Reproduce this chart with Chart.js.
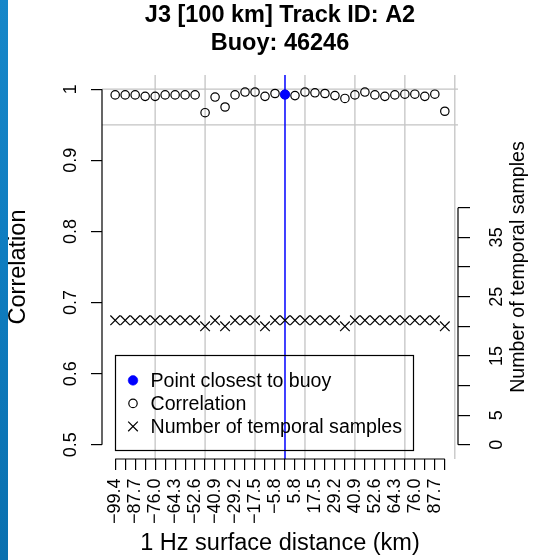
<!DOCTYPE html>
<html><head><meta charset="utf-8">
<script src="https://cdn.jsdelivr.net/npm/chart.js@4.4.1/dist/chart.umd.min.js"></script>
<style>
html,body{margin:0;padding:0;background:#fff;}
#wrap{position:relative;width:541px;height:560px;overflow:hidden;background:#fff;}
#strip{position:absolute;left:0;top:0;width:8px;height:560px;background:linear-gradient(180deg,#1787c9 0%,#0f7dc0 45%,#0a70af 100%);}
canvas{position:absolute;left:0;top:0;}
</style></head><body>
<div id="wrap"><canvas id="c" width="541" height="560"></canvas><div id="strip"></div></div>
<script>
// ---- data ----
const DIST_LABELS = ['\u221299.4','\u221293.6','\u221287.7','\u221281.9','\u221276.0','\u221270.2','\u221264.3','\u221258.5','\u221252.6','\u221246.8','\u221240.9','\u221235.1','\u221229.2','\u221223.4','\u221217.5','\u221211.7','\u22125.8','0.0','5.8','11.7','17.5','23.4','29.2','35.1','40.9','46.8','52.6','58.5','64.3','70.2','76.0','81.9','87.7','93.6'];
const CORRELATION = [0.992,0.992,0.992,0.990,0.990,0.992,0.992,0.992,0.992,0.967,0.989,0.975,0.992,0.996,0.996,0.990,0.994,0.9925,0.991,0.996,0.995,0.994,0.991,0.987,0.992,0.996,0.992,0.990,0.992,0.993,0.993,0.990,0.993,0.969];
const SAMPLES = [21,21,21,21,21,21,21,21,21,20,21,20,21,21,21,20,21,21,21,21,21,21,21,20,21,21,21,21,21,21,21,21,21,20];
const CLOSEST_INDEX = 18;            // 1-based position of the point closest to the buoy
const COR_TICKS = [0.5,0.6,0.7,0.8,0.9,1];
const COR_TICK_LABELS = ['0.5','0.6','0.7','0.8','0.9','1'];
const SAMPLE_TICKS = [0,5,10,15,20,25,30,35,40];
const SAMPLE_TICK_LABELS = [0,5,15,25,35];
const GRID_X = [5,10,15,20,25,30,35];
const GRID_Y = [0.95,1.0];
const LABEL_EVERY = 2;

// ---- chart ----
const FONT = "'Liberation Sans', Arial, sans-serif";
Chart.defaults.font.family = FONT;
Chart.defaults.color = '#000';
const TICK_SIZE = 18;

const idx = CORRELATION.map((_, i) => i + 1);

const refDecor = {
  id: 'refDecor',
  beforeDatasetsDraw(chart) {
    const {ctx, chartArea: ca, scales: {x, y}} = chart;
    ctx.save();
    ctx.strokeStyle = '#c4c4c4';
    ctx.lineWidth = 1.3;
    ctx.beginPath();
    GRID_X.forEach(v => { const px = x.getPixelForValue(v); ctx.moveTo(px, ca.top); ctx.lineTo(px, ca.bottom); });
    GRID_Y.forEach(v => { const py = y.getPixelForValue(v); ctx.moveTo(ca.left, py); ctx.lineTo(ca.right, py); });
    ctx.stroke();
    const bx = x.getPixelForValue(CLOSEST_INDEX);
    ctx.strokeStyle = '#0000ff';
    ctx.lineWidth = 1.5;
    ctx.beginPath(); ctx.moveTo(bx, ca.top); ctx.lineTo(bx, ca.bottom); ctx.stroke();
    ctx.restore();
  },
  afterDatasetsDraw(chart) {
    const {ctx, chartArea: ca, scales: {x, y, y2}} = chart;
    ctx.save();
    ctx.strokeStyle = '#000';
    ctx.lineWidth = 1.2;
    ctx.beginPath();
    ctx.moveTo(ca.left, y.getPixelForValue(COR_TICKS[0]));
    ctx.lineTo(ca.left, y.getPixelForValue(COR_TICKS[COR_TICKS.length - 1]));
    ctx.moveTo(ca.right, y2.getPixelForValue(SAMPLE_TICKS[0]));
    ctx.lineTo(ca.right, y2.getPixelForValue(SAMPLE_TICKS[SAMPLE_TICKS.length - 1]));
    ctx.moveTo(x.getPixelForValue(1), ca.bottom);
    ctx.lineTo(x.getPixelForValue(idx.length), ca.bottom);
    ctx.stroke();

    ctx.save();
    ctx.translate(ca.right + 61, (ca.top + ca.bottom) / 2);
    ctx.rotate(-Math.PI / 2);
    ctx.font = '19.6px ' + FONT;
    ctx.fillStyle = '#000';
    ctx.textAlign = 'center';
    ctx.textBaseline = 'middle';
    ctx.fillText('Number of temporal samples', 0, 0);
    ctx.restore();

    const L = {left: 115, top: 355, width: 298, height: 95, symX: 133, textX: 150.5, base0: 387, step: 23};
    ctx.lineWidth = 1.2;
    ctx.strokeStyle = '#000';
    ctx.strokeRect(L.left + 0.5, L.top + 0.5, L.width, L.height);
    ctx.font = '19.6px ' + FONT;
    ctx.textAlign = 'left';
    ctx.textBaseline = 'alphabetic';
    chart.data.datasets.forEach((ds, i) => {
      const by = L.base0 + i * L.step;
      const cy = by - 6.6;
      ctx.fillStyle = ds.backgroundColor;
      ctx.strokeStyle = ds.borderColor;
      ctx.lineWidth = ds.borderWidth;
      Chart.helpers.drawPoint(ctx, {pointStyle: ds.pointStyle, radius: ds.pointRadius, borderWidth: ds.borderWidth, rotation: 0}, L.symX, cy);
      ctx.fillStyle = '#000';
      ctx.fillText(ds.label, L.textX, by);
    });
    ctx.restore();
  }
};

new Chart(document.getElementById('c'), {
  type: 'scatter',
  data: {
    datasets: [
      {
        label: 'Point closest to buoy',
        data: [{x: CLOSEST_INDEX, y: CORRELATION[CLOSEST_INDEX - 1]}],
        yAxisID: 'y',
        pointStyle: 'circle', pointRadius: 4.8,
        backgroundColor: '#0000ff', borderColor: '#0000ff', borderWidth: 0.6
      },
      {
        label: 'Correlation',
        data: CORRELATION.map((v, i) => ({x: idx[i], y: v})),
        yAxisID: 'y',
        pointStyle: 'circle', pointRadius: 4.2,
        backgroundColor: 'rgba(0,0,0,0)', borderColor: '#000', borderWidth: 1.2
      },
      {
        label: 'Number of temporal samples',
        data: SAMPLES.map((v, i) => ({x: idx[i], y: v})),
        yAxisID: 'y2',
        pointStyle: 'crossRot', pointRadius: 6.8,
        backgroundColor: 'rgba(0,0,0,0)', borderColor: '#000', borderWidth: 1.2
      }
    ]
  },
  options: {
    responsive: false,
    animation: false,
    devicePixelRatio: 1,
    events: [],
    layout: {padding: 0},
    elements: {point: {hoverRadius: 0}},
    plugins: {
      legend: {display: false},
      tooltip: {enabled: false},
      title: {
        display: true,
        fullSize: false,
        text: ['J3 [100 km] Track ID: A2', 'Buoy: 46246'],
        font: {size: 23.5, weight: 'bold', lineHeight: 1.2},
        color: '#000',
        padding: {top: 1.5, bottom: 17.1}
      }
    },
    scales: {
      x: {
        type: 'linear', position: 'bottom',
        min: -0.32, max: idx.length + 1.32,
        afterBuildTicks: s => { s.ticks = idx.map(v => ({value: v})); },
        afterFit: s => { s.height = 101; },
        grid: {display: true, drawOnChartArea: false, drawTicks: true, tickLength: 11, color: '#000', lineWidth: 1.2},
        border: {display: false},
        ticks: {
          autoSkip: false, minRotation: 90, maxRotation: 90, padding: 8.5,
          font: {size: TICK_SIZE}, color: '#000',
          callback: v => ((v - 1) % LABEL_EVERY === 0 ? DIST_LABELS[v - 1] : '')
        },
        title: {display: true, text: '1 Hz surface distance (km)', font: {size: 23.5}, color: '#000', padding: {top: 0, bottom: 2.4}}
      },
      y: {
        type: 'linear', position: 'left',
        min: 0.48, max: 1.02,
        afterBuildTicks: s => { s.ticks = COR_TICKS.map(v => ({value: v})); },
        afterFit: s => { s.width = 102; },
        grid: {display: true, drawOnChartArea: false, drawTicks: true, tickLength: 11, color: '#000', lineWidth: 1.2},
        border: {display: false},
        ticks: {
          minRotation: 90, maxRotation: 90, crossAlign: 'center', padding: 7,
          font: {size: TICK_SIZE}, color: '#000',
          callback: v => COR_TICK_LABELS[COR_TICKS.indexOf(v)]
        },
        title: {display: true, text: 'Correlation', font: {size: 23.5}, color: '#000', padding: {top: 4.4, bottom: 0}}
      },
      y2: {
        type: 'linear', position: 'right',
        min: -2.4, max: 62.4,
        afterBuildTicks: s => { s.ticks = SAMPLE_TICKS.map(v => ({value: v})); },
        afterFit: s => { s.width = 83; },
        grid: {display: true, drawOnChartArea: false, drawTicks: true, tickLength: 12, color: '#000', lineWidth: 1.2},
        border: {display: false},
        ticks: {
          minRotation: 90, maxRotation: 90, crossAlign: 'center', padding: 17,
          font: {size: TICK_SIZE}, color: '#000',
          callback: v => (SAMPLE_TICK_LABELS.includes(v) ? String(v) : '')
        }
      }
    }
  },
  plugins: [refDecor]
});
</script>
</body></html>
